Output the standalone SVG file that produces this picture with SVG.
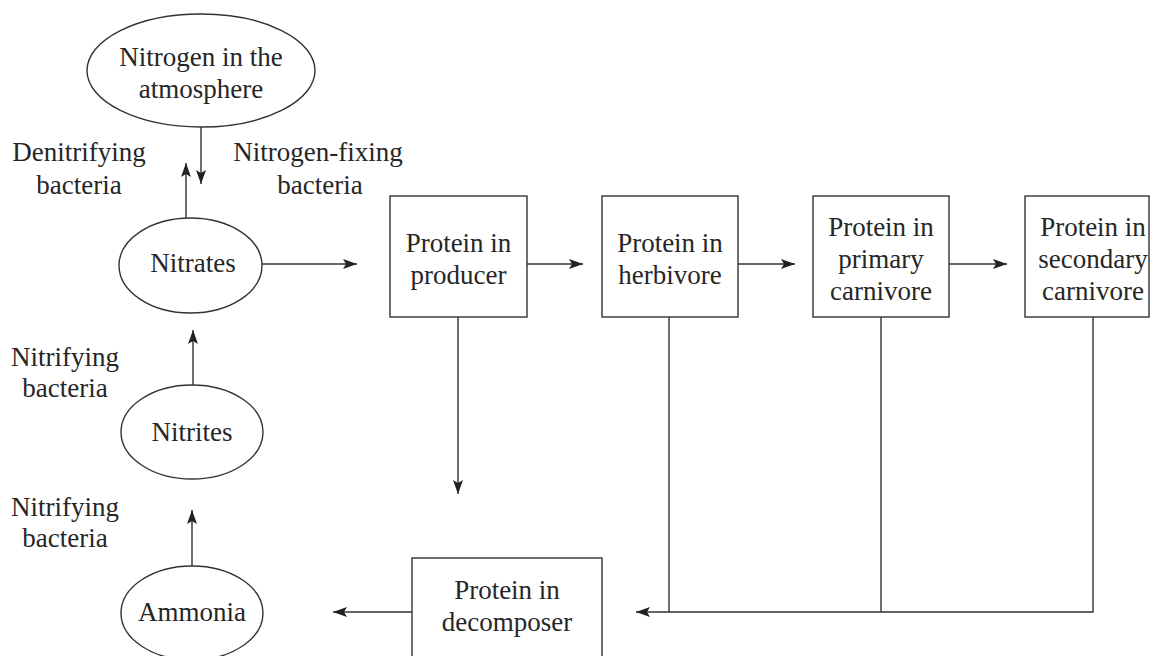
<svg xmlns="http://www.w3.org/2000/svg" width="1150" height="656" viewBox="0 0 1150 656">
<style>
text{font-family:"Liberation Serif","Times New Roman",serif;font-size:27px;fill:#262626;text-anchor:middle}
.s{fill:none;stroke:#333;stroke-width:1.4}
.c{fill:none;stroke:#333;stroke-width:1.4}
.a{marker-end:url(#ah)}
</style>
<defs>
<marker id="ah" markerUnits="userSpaceOnUse" markerWidth="16" markerHeight="12" refX="14" refY="5" orient="auto">
<path d="M0,0 L14,5 L0,10 L3,5 Z" fill="#222"/>
</marker>
</defs>
<rect width="1150" height="656" fill="#fff"/>
<g id="atmosphere"><ellipse class="s" cx="201" cy="70.5" rx="114" ry="56.5"/><text x="201" y="66">Nitrogen in the</text><text x="201" y="98">atmosphere</text></g>
<g id="nitrates"><ellipse class="s" cx="190.5" cy="265.5" rx="71.5" ry="47.5"/><text x="193" y="272">Nitrates</text></g>
<g id="nitrites"><ellipse class="s" cx="192" cy="432" rx="71" ry="47"/><text x="192" y="441">Nitrites</text></g>
<g id="ammonia"><ellipse class="s" cx="192" cy="613" rx="71" ry="47"/><text x="192" y="621">Ammonia</text></g>
<g id="producer"><rect class="s" x="390" y="196" width="137" height="121"/><text x="458.5" y="252">Protein in</text><text x="458.5" y="284">producer</text></g>
<g id="herbivore"><rect class="s" x="602" y="196" width="136" height="121"/><text x="670" y="252">Protein in</text><text x="670" y="284">herbivore</text></g>
<g id="primary"><rect class="s" x="813" y="196" width="136" height="121"/><text x="881" y="236">Protein in</text><text x="881" y="268">primary</text><text x="881" y="300">carnivore</text></g>
<g id="secondary"><rect class="s" x="1025" y="196" width="124" height="121"/><text x="1093" y="236">Protein in</text><text x="1093" y="268">secondary</text><text x="1093" y="300">carnivore</text></g>
<g id="decomposer"><rect class="s" x="412" y="558" width="190" height="110"/><text x="507" y="599">Protein in</text><text x="507" y="631">decomposer</text></g>
<g id="labels">
<text x="79" y="161">Denitrifying</text><text x="79" y="194">bacteria</text>
<text x="318" y="161">Nitrogen-fixing</text><text x="320" y="194">bacteria</text>
<text x="65" y="366">Nitrifying</text><text x="65" y="397">bacteria</text>
<text x="65" y="516">Nitrifying</text><text x="65" y="547">bacteria</text>
</g>
<g id="connectors">
<line class="c a" x1="201" y1="127" x2="201" y2="184"/>
<line class="c a" x1="186" y1="218" x2="186" y2="163"/>
<line class="c a" x1="193" y1="385" x2="193" y2="330"/>
<line class="c a" x1="192" y1="566" x2="192" y2="510"/>
<line class="c a" x1="262" y1="264" x2="357" y2="264"/>
<line class="c a" x1="527" y1="264" x2="583" y2="264"/>
<line class="c a" x1="738" y1="264" x2="795" y2="264"/>
<line class="c a" x1="949" y1="264" x2="1007" y2="264"/>
<line class="c a" x1="458" y1="317" x2="458" y2="494"/>
<line class="c a" x1="412" y1="612" x2="333" y2="612"/>
<polyline class="c" points="669,317 669,612"/>
<polyline class="c" points="881,317 881,612"/>
<polyline class="c a" points="1093,317 1093,612 636,612"/>
</g>
</svg>
